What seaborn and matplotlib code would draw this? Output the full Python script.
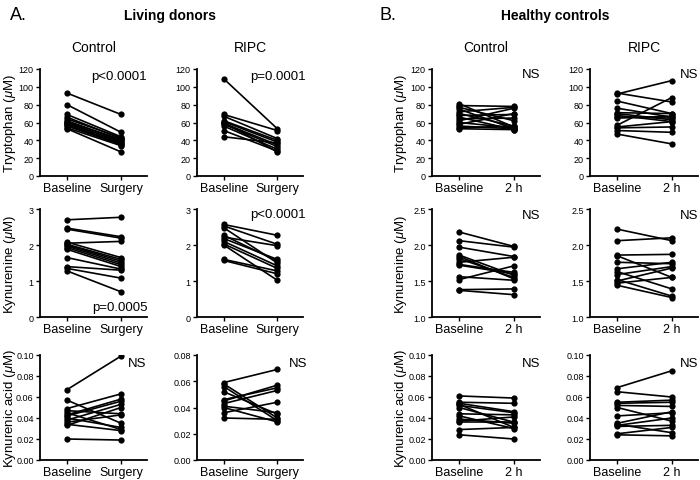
import numpy as np
import pandas as pd
import matplotlib
matplotlib.use('Agg')
import matplotlib.pyplot as plt
import seaborn as sns

# ---- data (paired values per subject) ----
time_a = ['Baseline', 'Surgery']
time_b = ['Baseline', '2 h']

# A. Living donors
trp_ctrl_base = [93, 80, 69, 66, 64, 62, 61, 60, 59, 58, 57, 56, 54, 53]
trp_ctrl_post = [69, 49, 44, 42, 43, 40, 41, 38, 39, 36, 37, 35, 34, 27]
trp_ripc_base = [109, 69, 67, 62, 61, 59, 58, 56, 51, 44, 60]
trp_ripc_post = [53, 51, 42, 40, 38, 35, 33, 30, 28, 37, 27]

kyn_ctrl_base = [2.70, 2.47, 2.44, 2.08, 2.05, 2.02, 2.00, 1.97, 1.93, 1.88, 1.65, 1.40, 1.35, 1.28]
kyn_ctrl_post = [2.77, 2.23, 2.19, 1.65, 2.10, 1.60, 1.55, 1.50, 1.45, 1.40, 1.33, 1.30, 1.08, 0.70]
kyn_ripc_base = [2.57, 2.53, 2.48, 2.27, 2.22, 2.18, 2.03, 2.00, 1.60, 1.57, 2.10]
kyn_ripc_post = [2.27, 2.02, 1.50, 1.55, 1.98, 1.60, 1.35, 1.02, 1.28, 1.20, 1.42]

kyna_ctrl_base = [0.067, 0.057, 0.049, 0.047, 0.045, 0.043, 0.042, 0.040, 0.038, 0.036, 0.034, 0.033, 0.020]
kyna_ctrl_post = [0.099, 0.035, 0.063, 0.044, 0.029, 0.058, 0.056, 0.031, 0.053, 0.043, 0.028, 0.050, 0.019]
kyna_ripc_base = [0.059, 0.058, 0.056, 0.052, 0.046, 0.045, 0.041, 0.040, 0.036, 0.032, 0.043]
kyna_ripc_post = [0.069, 0.032, 0.030, 0.035, 0.055, 0.057, 0.036, 0.029, 0.044, 0.031, 0.053]

# B. Healthy controls
trp_hc_ctrl_base = [81, 79, 77, 75, 72, 70, 68, 66, 64, 62, 60, 58, 56, 54, 53]
trp_hc_ctrl_post = [55, 78, 62, 53, 77, 56, 69, 52, 65, 76, 54, 70, 53, 56, 52]
trp_hc_ripc_base = [93, 92, 84, 76, 71, 70, 68, 66, 65, 57, 55, 54, 51, 47]
trp_hc_ripc_post = [83, 107, 70, 66, 70, 63, 61, 65, 67, 88, 61, 55, 49, 36]

kyn_hc_ctrl_base = [2.18, 2.06, 1.97, 1.86, 1.84, 1.81, 1.76, 1.73, 1.72, 1.56, 1.52, 1.38, 1.37]
kyn_hc_ctrl_post = [1.98, 1.97, 1.84, 1.58, 1.53, 1.55, 1.83, 1.62, 1.60, 1.51, 1.71, 1.39, 1.31]
kyn_hc_ripc_base = [2.22, 2.06, 1.86, 1.85, 1.76, 1.67, 1.63, 1.59, 1.52, 1.50, 1.47, 1.44]
kyn_hc_ripc_post = [2.06, 2.10, 1.87, 1.55, 1.74, 1.76, 1.39, 1.70, 1.29, 1.68, 1.55, 1.27]

kyna_hc_ctrl_base = [0.061, 0.055, 0.054, 0.053, 0.052, 0.050, 0.044, 0.042, 0.039, 0.037, 0.036, 0.029, 0.024]
kyna_hc_ctrl_post = [0.059, 0.054, 0.046, 0.031, 0.045, 0.036, 0.043, 0.030, 0.035, 0.041, 0.036, 0.031, 0.020]
kyna_hc_ripc_base = [0.069, 0.065, 0.055, 0.054, 0.052, 0.050, 0.042, 0.035, 0.034, 0.033, 0.032, 0.025, 0.024]
kyna_hc_ripc_post = [0.085, 0.060, 0.057, 0.055, 0.051, 0.037, 0.045, 0.046, 0.026, 0.040, 0.033, 0.031, 0.023]

# annotation texts
notes = [
    ['p<0.0001', 'p=0.0001', 'NS', 'NS'],
    ['p=0.0005', 'p<0.0001', 'NS', 'NS'],
    ['NS', 'NS', 'NS', 'NS'],
]

sns.set_theme(style='ticks')
plt.rcParams['font.family'] = ['Liberation Sans', 'DejaVu Sans']
plt.rcParams['mathtext.fontset'] = 'custom'
plt.rcParams['mathtext.it'] = 'Liberation Sans:italic'
plt.rcParams['mathtext.rm'] = 'Liberation Sans'
plt.rcParams['text.color'] = 'black'
plt.rcParams['axes.labelcolor'] = 'black'

fig = plt.figure(figsize=(7, 4.81), dpi=100)

# axes placement in pixels (left, right) / (top, bottom)
col_px = [(40, 147), (197, 303), (432, 540), (590, 698)]
row_px = [(70, 177), (210, 318), (356, 461)]
W, H = 700, 481


def make_ax(r, c):
    l, rr = col_px[c]
    t, b = row_px[r]
    return fig.add_axes([l / W, 1 - b / H, (rr - l) / W, (b - t) / H])


def paired(ax, base, post, labels):
    n = len(base)
    df = pd.DataFrame({
        'id': list(range(n)) * 2,
        'time': [0] * n + [1] * n,
        'value': list(base) + list(post),
    })
    sns.lineplot(data=df, x='time', y='value', units='id', estimator=None,
                 color='black', marker='o', markersize=4.5, markeredgewidth=0,
                 linewidth=1.2, ax=ax, legend=False)
    ax.set_xlim(-0.5, 1.48)
    ax.set_xticks([0, 1])
    ax.set_xticklabels(labels, fontsize=9)
    ax.set_xlabel('')
    ax.set_ylabel('')
    for s in ['top', 'right']:
        ax.spines[s].set_visible(False)
    for s in ['left', 'bottom']:
        ax.spines[s].set_linewidth(1.3)
        ax.spines[s].set_color('black')
    ax.tick_params(axis='y', labelsize=6.5, length=3, width=1, pad=1.5, colors='black')
    ax.tick_params(axis='x', length=3, width=1, pad=1.5, colors='black')


panels = [
    [(trp_ctrl_base, trp_ctrl_post), (trp_ripc_base, trp_ripc_post),
     (trp_hc_ctrl_base, trp_hc_ctrl_post), (trp_hc_ripc_base, trp_hc_ripc_post)],
    [(kyn_ctrl_base, kyn_ctrl_post), (kyn_ripc_base, kyn_ripc_post),
     (kyn_hc_ctrl_base, kyn_hc_ctrl_post), (kyn_hc_ripc_base, kyn_hc_ripc_post)],
    [(kyna_ctrl_base, kyna_ctrl_post), (kyna_ripc_base, kyna_ripc_post),
     (kyna_hc_ctrl_base, kyna_hc_ctrl_post), (kyna_hc_ripc_base, kyna_hc_ripc_post)],
]

ylabels = [r'Tryptophan ($\mu$M)', r'Kynurenine ($\mu$M)', r'Kynurenic acid ($\mu$M)']
note_pos = [
    [(0.74, 0.93), (0.76, 0.93), (0.92, 0.95), (0.92, 0.95)],
    [(0.75, 0.09), (0.76, 0.95), (0.92, 0.94), (0.92, 0.94)],
    [(0.91, 0.92), (0.95, 0.92), (0.92, 0.92), (0.92, 0.92)],
]

for r in range(3):
    for c in range(4):
        ax = make_ax(r, c)
        base, post = panels[r][c]
        paired(ax, base, post, time_a if c < 2 else time_b)
        if r == 0:
            ax.set_ylim(0, 120)
            ax.set_yticks(np.arange(0, 121, 20))
            ax.set_yticklabels([str(v) for v in range(0, 121, 20)])
        elif r == 1:
            if c < 2:
                ax.set_ylim(0, 3)
                ax.set_yticks([0, 1, 2, 3])
                ax.set_yticklabels(['0', '1', '2', '3'])
            else:
                ax.set_ylim(1.0, 2.5)
                ax.set_yticks([1.0, 1.5, 2.0, 2.5])
                ax.set_yticklabels(['1.0', '1.5', '2.0', '2.5'])
        else:
            top = 0.08 if c == 1 else 0.10
            ticks = np.arange(0, top + 0.001, 0.02)
            ax.set_ylim(0, top)
            ax.set_yticks(ticks)
            ax.set_yticklabels(['%.2f' % v for v in ticks])
        if c in (0, 2):
            ax.set_ylabel(ylabels[r], fontsize=9.5)
            ax.yaxis.set_label_coords(-0.21, 0.5)
        nx, ny = note_pos[r][c]
        ax.text(nx, ny, notes[r][c], transform=ax.transAxes, ha='center',
                va='center', fontsize=9.5)
        if r == 0:
            ax.text(0.5, 1.21, 'Control' if c in (0, 2) else 'RIPC',
                    transform=ax.transAxes, ha='center', va='center', fontsize=10)

fig.text(18 / W, 1 - 16 / H, 'A.', fontsize=13, ha='center', va='center')
fig.text(170 / W, 1 - 16 / H, 'Living donors', fontsize=10, fontweight='bold',
         ha='center', va='center')
fig.text(388 / W, 1 - 16 / H, 'B.', fontsize=13, ha='center', va='center')
fig.text(555 / W, 1 - 16 / H, 'Healthy controls', fontsize=10, fontweight='bold',
         ha='center', va='center')

fig.savefig('out.png', dpi=100)
